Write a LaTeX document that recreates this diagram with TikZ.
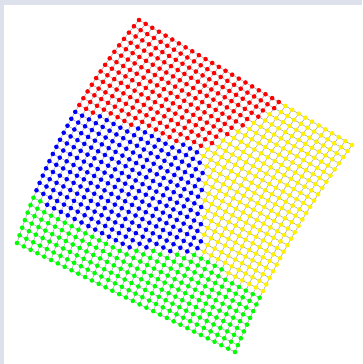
\documentclass[tikz,border=0pt]{standalone}
\usepackage{xcolor}
\usepackage{tikz}
\definecolor{somframe}{HTML}{DDE1EC}
\definecolor{somlink}{HTML}{A0A0A0}
\colorlet{somcol1}{red}
\colorlet{somcol2}{yellow}
\colorlet{somcol3}{blue}
\colorlet{somcol4}{green}

\begin{document}
\begin{tikzpicture}[
    x=1pt, y=-1pt,
    link/.style={draw=somlink, line width=0.5pt},
    unit/.style={line width=0pt}
]
    \useasboundingbox (0,0) rectangle (362,364);
    \fill[somframe] (0,0) rectangle (362,364);
    \fill[white] (4,5) rectangle (362,364);

    % Grid points
    \foreach \i in {0,...,32}{
      \foreach \j in {0,...,32}{
        \pgfmathsetmacro\u{\i/32}
        \pgfmathsetmacro\v{\j/32}
        \pgfmathsetmacro\bulge{4*\v*(1-\v)*(12-5*\u)}
        \pgfmathsetmacro\px{139+213*\u-122*\v+5*\u*\v-0.878*\bulge}
        \pgfmathsetmacro\py{20+125*\u+223*\v-16*\u*\v-0.480*\bulge}
        \coordinate (p-\i-\j) at (\px,\py);
        \pgfmathsetmacro\rb{\px<203 ? 108+0.34*(\px-78) : 151-0.56*(\px-203)}
        \pgfmathsetmacro\gb{\px<118 ? 196+0.62*(\px-33) : (\px<203 ? 248.7+0.06*(\px-118) : 253.8+0.76*(\px-203))}
        \pgfmathtruncatemacro\cls{\py<\rb ? 1 : (\py>\gb ? 4 : (\px<203 ? 3 : 2))}
        \expandafter\xdef\csname cls-\i-\j\endcsname{\cls}
      }
    }

    % Links
    \foreach \i [evaluate=\i as \k using int(\i+1)] in {0,...,31}{
      \foreach \j in {0,...,32}{
        \draw[link] (p-\i-\j) -- (p-\k-\j);
        \draw[link] (p-\j-\i) -- (p-\j-\k);
      }
    }

    % Units
    \foreach \i in {0,...,32}{
      \foreach \j in {0,...,32}{
        \edef\c{\csname cls-\i-\j\endcsname}
        \fill[unit, somcol\c] (p-\i-\j) circle (2.3);
      }
    }
\end{tikzpicture}
\end{document}
